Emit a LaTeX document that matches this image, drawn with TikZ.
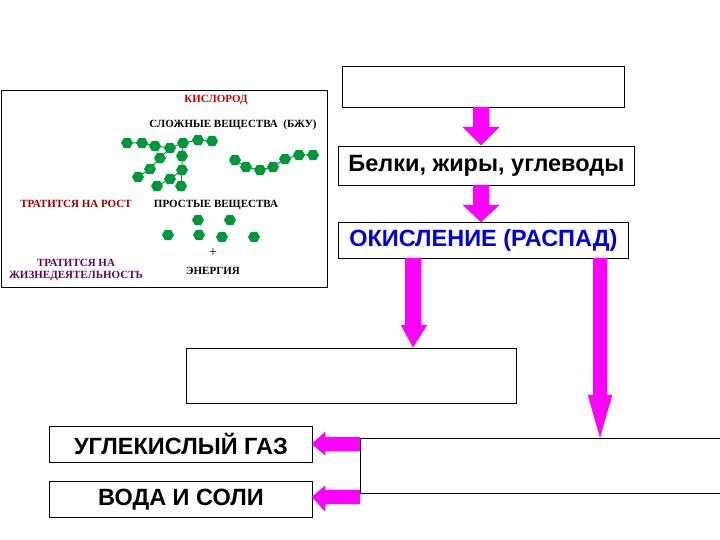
\documentclass[tikz,border=0pt]{standalone}
\usepackage{fontspec}
\usetikzlibrary{shapes.geometric}
\setmainfont{Liberation Sans}
\newfontfamily\serifb{Liberation Serif}
\definecolor{mag}{RGB}{255,0,255}
\definecolor{magd}{RGB}{190,40,190}
\definecolor{hexg}{RGB}{0,150,60}
\begin{document}
\begin{tikzpicture}[x=1pt,y=-1pt,
  box/.style={draw=black,line width=0.8pt,fill=white,inner sep=0pt,anchor=north west},
  lbl/.style={font=\fontsize{23.5}{25}\selectfont\bfseries},
  fat/.style={fill=mag,draw=magd,line width=0.4pt},
  hex/.style={regular polygon,regular polygon sides=6,fill=hexg,minimum size=12pt,inner sep=0pt},
  chain/.style={draw=hexg,line width=1pt},
  small/.style={font=\serifb\fontsize{11}{12.5}\selectfont\bfseries,align=center}]
\useasboundingbox (0,0) rectangle (720,540);
\fill[white] (0,0) rectangle (720,540);
% left picture
\node[box,minimum width=326pt,minimum height=197pt] (pic) at (1,90) {};
\foreach \a/\b in {127/143,142/143,155/146,170/148,183/143,198/140,212/141,160/158,150/169,138/177,182/156,182/170,181/186,170/179,157/186,235/160,246/167,260/170,273/167,285/159,299/155,313/155}
  {\coordinate (c\a-\b) at (\a,\b);}
\draw[chain] (c127-143)--(c142-143)--(c155-146)--(c170-148)--(c183-143)--(c198-140)--(c212-141);
\draw[chain] (c170-148)--(c160-158)--(c150-169)--(c138-177);
\draw[chain] (c183-143)--(c182-156)--(c182-170)--(c181-186);
\draw[chain] (c182-170)--(c170-179)--(c157-186);
\draw[chain] (c235-160)--(c246-167)--(c260-170)--(c273-167)--(c285-159)--(c299-155)--(c313-155);
\foreach \a/\b in {127/143,142/143,155/146,170/148,183/143,198/140,212/141,160/158,150/169,138/177,182/156,182/170,181/186,170/179,157/186,235/160,246/167,260/170,273/167,285/159,299/155,313/155,198/220,230/220,168/235,199/235,222/237,254/237}
  {\node[hex] at (\a,\b) {};}
\node[small,text=red!80!black] (kis) at (216,100) {КИСЛОРОД};
\node[small] (slo) at (233,125) {СЛОЖНЫЕ ВЕЩЕСТВА\ \ (БЖУ)};
\node[small,text=red!60!black] (ros) at (76,204) {ТРАТИТСЯ НА РОСТ};
\node[small] (pro) at (216,205) {ПРОСТЫЕ ВЕЩЕСТВА};
\node[font=\serifb\fontsize{14}{14}\selectfont] (plus) at (213,253) {+};
\node[small] (en) at (213,271) {ЭНЕРГИЯ};
\node[small,text=violet!80!black] (zh) at (76,270) {ТРАТИТСЯ НА\\ЖИЗНЕДЕЯТЕЛЬНОСТЬ};
% boxes
\node[box,minimum width=282pt,minimum height=41pt] (top) at (342,66) {};
\node[box,minimum width=296pt,minimum height=39pt,lbl] (bel) at (338,146) {Белки, жиры, углеводы};
\node[box,minimum width=290pt,minimum height=36pt,lbl,text=blue!85!black] (ok) at (338,222) {ОКИСЛЕНИЕ (РАСПАД)};
\node[box,minimum width=330pt,minimum height=55pt] (mid) at (186,348) {};
\node[box,minimum width=263pt,minimum height=36pt,lbl] (ug) at (49,426) {УГЛЕКИСЛЫЙ ГАЗ};
\node[box,minimum width=263pt,minimum height=36pt,lbl] (vo) at (49,481) {ВОДА И СОЛИ};
\coordinate (r1) at (720,438);
\coordinate (r2) at (720,493);
\draw[line width=0.8pt] (r1) -| (360,493) -- (r2);
% arrows
\draw[fat] (473,107)--(489,107)--(489,127)--(499,127)--(481,145)--(463,127)--(473,127)--cycle;
\draw[fat] (473,185)--(489,185)--(489,205)--(499,205)--(481,222)--(463,205)--(473,205)--cycle;
\draw[fat] (405,258)--(421,258)--(421,325)--(427,325)--(413,347)--(401,325)--(405,325)--cycle;
\draw[fat] (593,258)--(607,258)--(607,395)--(612,395)--(600,437)--(588,395)--(593,395)--cycle;
\draw[fat] (360,437)--(360,451)--(325,451)--(325,455)--(312,444)--(325,432)--(325,437)--cycle;
\draw[fat] (360,490)--(360,504)--(325,504)--(325,511)--(312,497)--(325,486)--(325,490)--cycle;
\end{tikzpicture}
\end{document}
